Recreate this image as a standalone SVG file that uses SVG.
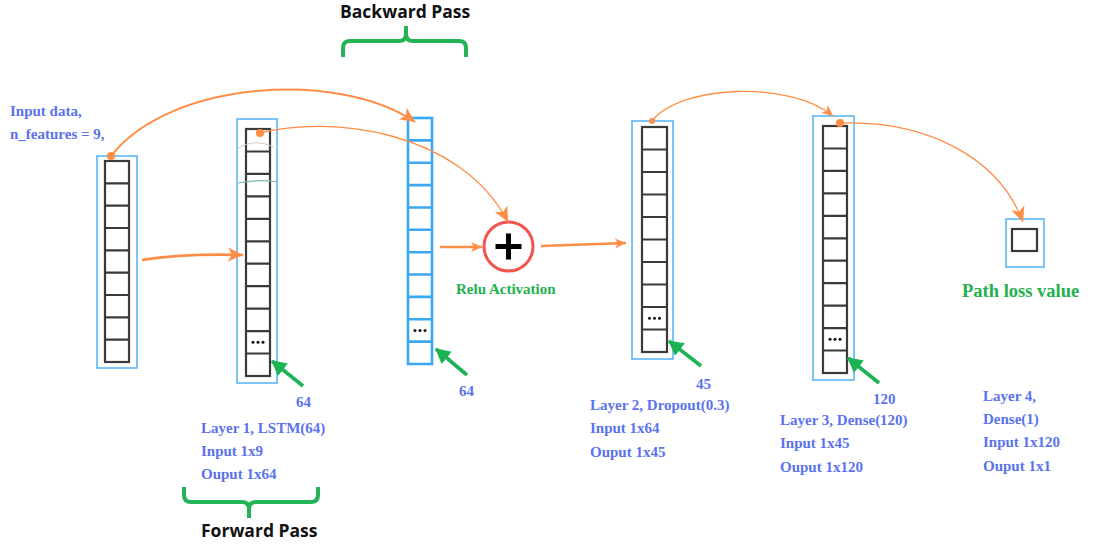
<svg xmlns="http://www.w3.org/2000/svg" width="1115" height="545" viewBox="0 0 1115 545">
  <style>
    .lbl { font-family: "Liberation Serif", "Times New Roman", serif; font-weight: bold; font-size: 15px; fill: #5b72ee; }
    .grn { font-family: "Liberation Serif", "Times New Roman", serif; font-weight: bold; fill: #22b14c; }
    .pass { font-family: "Open Sans", "Noto Sans", sans-serif; font-weight: bold; font-size: 17.5px; fill: #111; }
    .frame { fill: none; stroke: #5cb8f5; stroke-width: 1.6; }
    .cells { fill: #fff; stroke: #3a3a3a; stroke-width: 2.2; }
    .bcells { fill: #fff; stroke: #3aa9f2; stroke-width: 2.6; }
    .dot { fill: #111; }
    .flow { fill: none; stroke: #ff8d45; }
    .thin { stroke-width: 1.3; }
    .mid { stroke-width: 2; }
    .thick { stroke-width: 2.6; }
    .pt { fill: none; stroke: #1db355; stroke-width: 3.6; }
    .brace { fill: none; stroke: #22b455; stroke-width: 4; stroke-linecap: butt; }
  </style>
  <defs>
    <marker id="headL" markerUnits="userSpaceOnUse" markerWidth="18" markerHeight="16" refX="15" refY="7" orient="auto">
      <path d="M0,0 L15,7 L0,14 L4,7 z" fill="#ff8d45"/>
    </marker>
    <marker id="headS" markerUnits="userSpaceOnUse" markerWidth="14" markerHeight="12" refX="11" refY="5" orient="auto">
      <path d="M0,0 L11,5 L0,10 L3,5 z" fill="#ff8d45"/>
    </marker>
    <marker id="dotL" markerUnits="userSpaceOnUse" markerWidth="10" markerHeight="10" refX="5" refY="5">
      <circle cx="5" cy="5" r="4" fill="#ff8d45"/>
    </marker>
    <marker id="dotS" markerUnits="userSpaceOnUse" markerWidth="8" markerHeight="8" refX="4" refY="4">
      <circle cx="4" cy="4" r="3" fill="#ff8d45"/>
    </marker>
    <marker id="gHead" markerUnits="userSpaceOnUse" markerWidth="18" markerHeight="18" refX="14" refY="8" orient="auto">
      <path d="M0,0 L15,8 L0,16 z" fill="#1db355"/>
    </marker>
  </defs>

  <rect width="1115" height="545" fill="#ffffff"/>

  <!-- Pass brackets -->
  <g id="backward-pass">
    <text class="pass" x="340" y="18">Backward Pass</text>
    <path class="brace" d="M343,57 L343,48 Q343,41 350,41 L399,41 Q406,41 406,34 L406,26 M406,34 Q406,41 413,41 L459,41 Q466,41 466,48 L466,57"/>
  </g>
  <g id="forward-pass">
    <path class="brace" d="M184,487 L184,495 Q184,502 191,502 L242,502 Q249,502 249,509 L249,518 M249,509 Q249,502 256,502 L311,502 Q318,502 318,495 L318,487"/>
    <text class="pass" x="201" y="537">Forward Pass</text>
  </g>

  <!-- Input column: 9 features -->
  <g id="input">
    <text class="lbl" x="10" y="116">Input data,</text>
    <text class="lbl" x="10" y="139">n_features = 9,</text>
    <rect class="frame" x="97" y="156" width="40" height="212"/>
    <rect class="cells" x="105" y="161" width="24" height="201"/>
    <path class="cells" d="M105,183.3H129M105,205.7H129M105,228H129M105,250.3H129M105,272.7H129M105,295H129M105,317.3H129M105,339.7H129"/>
  </g>

  <!-- Layer 1: LSTM(64) -->
  <g id="layer1">
    <rect class="frame" x="237" y="119" width="40" height="264"/>
    <rect class="cells" x="246" y="129" width="24" height="247"/>
    <path class="cells" d="M246,151.5H270M246,173.9H270M246,196.4H270M246,218.8H270M246,241.3H270M246,263.7H270M246,286.2H270M246,308.6H270M246,331.1H270M246,353.5H270"/>
    <circle class="dot" cx="253" cy="342.3" r="1.5"/><circle class="dot" cx="258" cy="342.3" r="1.5"/><circle class="dot" cx="263" cy="342.3" r="1.5"/>
    <path d="M238,148 Q255,138 274,147" fill="none" stroke="#d0d0d0" stroke-width="1"/>
    <path d="M238,183 Q258,179 278,182" fill="none" stroke="#7fb8b0" stroke-width="1.2"/>
    <text class="lbl" x="296" y="407">64</text>
    <text class="lbl" x="201" y="433">Layer 1, LSTM(64)</text>
    <text class="lbl" x="201" y="456">Input 1x9</text>
    <text class="lbl" x="201" y="479">Ouput 1x64</text>
  </g>

  <!-- Backward LSTM column -->
  <g id="backward">
    <rect class="bcells" x="408" y="118" width="24" height="246"/>
    <path class="bcells" d="M408,140.4H432M408,162.7H432M408,185.1H432M408,207.5H432M408,229.8H432M408,252.2H432M408,274.5H432M408,296.9H432M408,319.3H432M408,341.6H432"/>
    <circle class="dot" cx="415" cy="330.5" r="1.5"/><circle class="dot" cx="420" cy="330.5" r="1.5"/><circle class="dot" cx="425" cy="330.5" r="1.5"/>
    <text class="lbl" x="459" y="396">64</text>
  </g>

  <!-- Merge with ReLU -->
  <g id="merge">
    <circle cx="508.5" cy="246.5" r="24.5" fill="#fff" stroke="#f05550" stroke-width="3"/>
    <path d="M495.5,246.5H521.5M508.5,233.5V259.5" stroke="#000" stroke-width="5"/>
    <text class="grn" x="456" y="294" font-size="15">Relu Activation</text>
  </g>

  <!-- Layer 2: Dropout(0.3) -->
  <g id="layer2">
    <rect class="frame" x="632" y="121" width="41" height="238"/>
    <rect class="cells" x="642" y="127" width="25" height="225"/>
    <path class="cells" d="M642,149.5H667M642,172H667M642,194.5H667M642,217H667M642,239.5H667M642,262H667M642,284.5H667M642,307H667M642,329.5H667"/>
    <circle class="dot" cx="649.5" cy="318.3" r="1.5"/><circle class="dot" cx="654.5" cy="318.3" r="1.5"/><circle class="dot" cx="659.5" cy="318.3" r="1.5"/>
    <text class="lbl" x="696" y="389">45</text>
    <text class="lbl" x="590" y="410">Layer 2, Dropout(0.3)</text>
    <text class="lbl" x="590" y="433">Input 1x64</text>
    <text class="lbl" x="590" y="457">Ouput 1x45</text>
  </g>

  <!-- Layer 3: Dense(120) -->
  <g id="layer3">
    <rect class="frame" x="813" y="116" width="41" height="264"/>
    <rect class="cells" x="823" y="126" width="24" height="247"/>
    <path class="cells" d="M823,148.5H847M823,170.9H847M823,193.4H847M823,215.8H847M823,238.3H847M823,260.7H847M823,283.2H847M823,305.6H847M823,328.1H847M823,350.5H847"/>
    <circle class="dot" cx="830" cy="339.3" r="1.5"/><circle class="dot" cx="835" cy="339.3" r="1.5"/><circle class="dot" cx="840" cy="339.3" r="1.5"/>
    <text class="lbl" x="873" y="404">120</text>
    <text class="lbl" x="780" y="425">Layer 3, Dense(120)</text>
    <text class="lbl" x="780" y="448">Input 1x45</text>
    <text class="lbl" x="780" y="472">Ouput 1x120</text>
  </g>

  <!-- Layer 4: Dense(1) output -->
  <g id="layer4">
    <rect class="frame" x="1006" y="219" width="38" height="48"/>
    <rect class="cells" x="1012" y="229" width="25" height="22"/>
    <text class="grn" x="962" y="297" font-size="18.5">Path loss value</text>
    <text class="lbl" x="983" y="401">Layer 4,</text>
    <text class="lbl" x="983" y="424">Dense(1)</text>
    <text class="lbl" x="983" y="447">Input 1x120</text>
    <text class="lbl" x="983" y="471">Ouput 1x1</text>
  </g>

  <!-- Connectors -->
  <g id="connectors">
    <path class="flow thick" d="M142,260 C180,254 212,254 243,255" marker-end="url(#headL)"/>
    <path class="flow mid" d="M111,156 C170,80 340,70 415,122" marker-start="url(#dotL)" marker-end="url(#headL)"/>
    <path class="flow thin" d="M260,133 C330,115 460,130 508,222" marker-start="url(#dotL)" marker-end="url(#headL)"/>
    <path class="flow thick" d="M440,247 L482,247" marker-end="url(#headS)"/>
    <path class="flow thick" d="M541,246 L626,243" marker-end="url(#headS)"/>
    <path class="flow thin" d="M652,121 C680,85 790,80 833,116" marker-start="url(#dotS)" marker-end="url(#headS)"/>
    <path class="flow thin" d="M840,123 C930,120 1000,160 1023,222" marker-start="url(#dotL)" marker-end="url(#headL)"/>

    <path class="pt" d="M303,386 L272,361" marker-end="url(#gHead)"/>
    <path class="pt" d="M467,375 L436,349" marker-end="url(#gHead)"/>
    <path class="pt" d="M701,366 L669,341" marker-end="url(#gHead)"/>
    <path class="pt" d="M879,383 L848,358" marker-end="url(#gHead)"/>
  </g>
</svg>
